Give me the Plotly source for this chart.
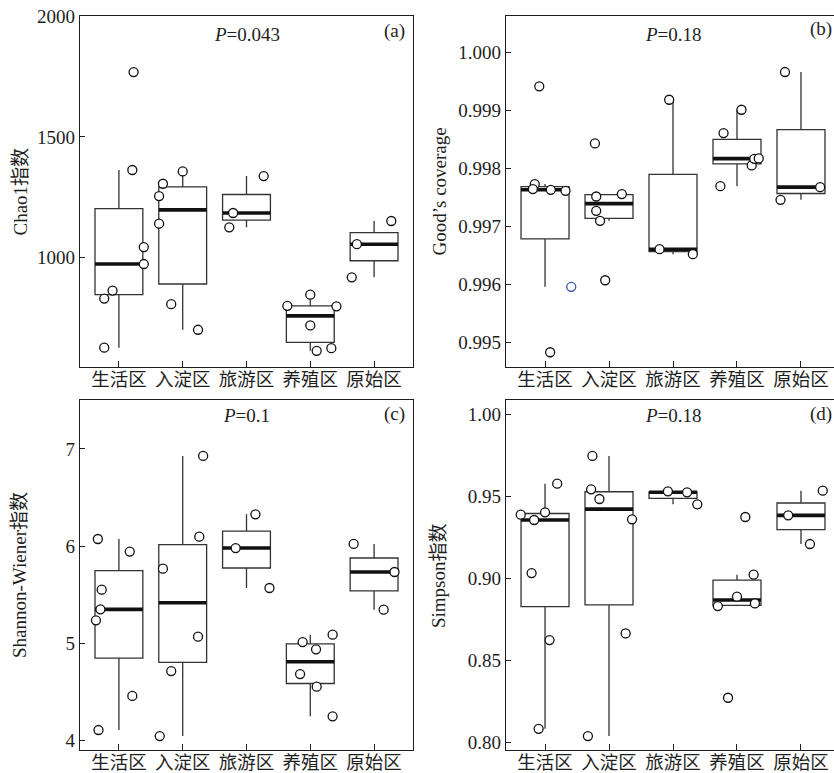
import numpy as np
import plotly.graph_objects as go

categories = ["生活区", "入淀区", "旅游区", "养殖区", "原始区"]

# Panel (a) Chao1
chao1 = [
    [831, 864, 628, 1768, 1363, 1044, 974],
    [1306, 1255, 1141, 1357, 808, 702],
    [1126, 1185, 1338],
    [801, 847, 799, 720, 615, 626],
    [1152, 1056, 919],
]
chao1_jitter = [
    [-0.23, -0.10, -0.23, 0.23, 0.21, 0.39, 0.39],
    [-0.31, -0.37, -0.37, 0.0, -0.18, 0.24],
    [-0.27, -0.21, 0.27],
    [-0.36, 0.0, 0.41, 0.0, 0.10, 0.33],
    [0.27, -0.27, -0.35],
]

# Panel (b) Good's coverage
goods = [
    [0.997727, 0.997641, 0.997629, 0.997612, 0.999409, 0.995959, 0.994834],
    [0.998427, 0.997514, 0.997555, 0.997268, 0.997095, 0.996073],
    [0.996607, 0.996521, 0.999179],
    [0.998605, 0.999007, 0.997692, 0.998048, 0.998163, 0.998169],
    [0.999656, 0.997675, 0.997457],
]
goods_jitter = [
    [-0.16, -0.19, 0.09, 0.32, -0.09, 0.41, 0.08],
    [-0.22, -0.20, 0.20, -0.20, -0.14, -0.06],
    [-0.21, 0.31, -0.06],
    [-0.21, 0.07, -0.26, 0.23, 0.27, 0.34],
    [-0.25, 0.30, -0.32],
]
goods_blue = (0, 5)  # group index, point index drawn in blue

# Panel (c) Shannon-Wiener
shannon = [
    [6.072, 5.942, 5.550, 5.347, 5.234, 4.454, 4.103],
    [6.928, 6.096, 5.766, 5.065, 4.711, 4.041],
    [5.979, 6.326, 5.567],
    [5.086, 5.010, 4.935, 4.680, 4.550, 4.244],
    [6.021, 5.732, 5.344],
]
shannon_jitter = [
    [-0.33, 0.17, -0.27, -0.29, -0.36, 0.21, -0.32],
    [0.32, 0.26, -0.31, 0.24, -0.18, -0.36],
    [-0.17, 0.14, 0.36],
    [0.35, -0.12, 0.09, -0.16, 0.10, 0.35],
    [-0.32, 0.32, 0.15],
]

# Panel (d) Simpson
simpson = [
    [0.95777, 0.93888, 0.94030, 0.93563, 0.90335, 0.86253, 0.80852],
    [0.97462, 0.95431, 0.94843, 0.93604, 0.86660, 0.80406],
    [0.9531, 0.95249, 0.94518],
    [0.93746, 0.90233, 0.88893, 0.88325, 0.88487, 0.82741],
    [0.9535, 0.93848, 0.92101],
]
simpson_jitter = [
    [0.19, -0.38, 0.0, -0.17, -0.21, 0.07, -0.10],
    [-0.26, -0.28, -0.15, 0.36, 0.26, -0.33],
    [-0.08, 0.22, 0.38],
    [0.13, 0.26, 0.0, -0.30, 0.28, -0.14],
    [0.34, -0.20, 0.14],
]

p_labels = ["0.043", "0.18", "0.1", "0.18"]
panel_tags = ["(a)", "(b)", "(c)", "(d)"]
y_titles = ["Chao1指数", "Good’s coverage", "Shannon-Wiener指数", "Simpson指数"]
y_ticks = [
    [1000, 1500, 2000],
    [0.995, 0.996, 0.997, 0.998, 0.999, 1.000],
    [4, 5, 6, 7],
    [0.80, 0.85, 0.90, 0.95, 1.00],
]
y_ticktext = [
    ["1000", "1500", "2000"],
    ["0.995", "0.996", "0.997", "0.998", "0.999", "1.000"],
    ["4", "5", "6", "7"],
    ["0.80", "0.85", "0.90", "0.95", "1.00"],
]
y_ranges = [[548, 2000], [0.99458, 1.00062], [3.897, 7.505], [0.7956, 1.0087]]

FONT = "Liberation Serif, Noto Sans CJK SC, serif"
W, H = 834, 773
BOXW = 0.75
INK = "#1e1e1e"

panels = [
    (chao1, chao1_jitter),
    (goods, goods_jitter),
    (shannon, shannon_jitter),
    (simpson, simpson_jitter),
]

# pixel layout of the plotting frames
frames = [
    (80, 413, 16, 367),
    (506, 834, 16, 367),
    (80, 413, 400, 750),
    (506, 834, 400, 750),
]
x_ranges = [[0.39, 5.61], [0.39, 5.516], [0.39, 5.61], [0.39, 5.516]]
p_y = [0.948, 0.948, 0.957, 0.957]
tag_x = [0.982, 1.0, 0.982, 1.0]
tag_y = [0.957, 0.963, 0.96, 0.96]
title_x = [20, 439, 19, 438]

fig = go.Figure()
layout = {}
annotations = []

for k, (vals, jits) in enumerate(panels):
    xa = "x" if k == 0 else f"x{k+1}"
    ya = "y" if k == 0 else f"y{k+1}"
    for g, (v, j) in enumerate(zip(vals, jits)):
        pos = g + 1
        arr = np.array(v, dtype=float)
        q1, med, q3 = np.percentile(arr, [25, 50, 75])
        iqr = q3 - q1
        lo = arr[arr >= q1 - 1.5 * iqr].min()
        hi = arr[arr <= q3 + 1.5 * iqr].max()
        fig.add_trace(go.Box(
            x=[pos], q1=[q1], median=[med], q3=[q3],
            lowerfence=[lo], upperfence=[hi],
            width=BOXW, boxpoints=False, whiskerwidth=0,
            line=dict(color="#333333", width=1.3),
            fillcolor="rgba(0,0,0,0)",
            xaxis=xa, yaxis=ya, showlegend=False, hoverinfo="skip",
        ))
        fig.add_trace(go.Scatter(
            x=[pos - BOXW / 2, pos + BOXW / 2], y=[med, med],
            mode="lines", line=dict(color="#111111", width=3.6),
            xaxis=xa, yaxis=ya, showlegend=False, hoverinfo="skip",
        ))
        colors = ["#111111"] * len(v)
        if k == 1 and g == goods_blue[0]:
            colors[goods_blue[1]] = "#3a55a8"
        fig.add_trace(go.Scatter(
            x=[pos + d for d in j], y=v, mode="markers",
            marker=dict(size=9, color="white",
                        line=dict(color=colors, width=1.3)),
            xaxis=xa, yaxis=ya, showlegend=False, hoverinfo="skip",
            cliponaxis=False,
        ))

    x0, x1, y0, y1 = frames[k]
    right_panel = k in (1, 3)
    layout["xaxis" if k == 0 else f"xaxis{k+1}"] = dict(
        domain=[x0 / W, x1 / W], anchor=ya, range=x_ranges[k],
        tickvals=[1, 2, 3, 4, 5], ticktext=categories,
        ticks="inside", ticklen=6, tickcolor=INK, tickwidth=1.2,
        showline=True, mirror=True, linecolor=INK, linewidth=1.2,
        showgrid=False, zeroline=False, automargin=False,
        ticklabelstandoff=-4,
        tickfont=dict(family=FONT, size=18.5, color=INK),
    )
    layout["yaxis" if k == 0 else f"yaxis{k+1}"] = dict(
        domain=[1 - y1 / H, 1 - y0 / H], anchor=xa, range=y_ranges[k],
        tickvals=y_ticks[k], ticktext=y_ticktext[k],
        ticks="inside", ticklen=5, tickcolor=INK, tickwidth=1.2,
        showline=True, mirror=not right_panel, linecolor=INK, linewidth=1.2,
        showgrid=False, zeroline=False, automargin=False,
        tickfont=dict(family=FONT, size=19, color=INK),
    )
    annotations.append(dict(
        text=f"<i>P</i>=" + p_labels[k], xref=xa, x=3,
        yref=f"{ya} domain", y=p_y[k], xanchor="center", yanchor="middle",
        showarrow=False, font=dict(family=FONT, size=19, color=INK),
    ))
    annotations.append(dict(
        text=panel_tags[k], xref=f"{xa} domain", x=tag_x[k],
        yref=f"{ya} domain", y=tag_y[k], xanchor="right", yanchor="middle",
        showarrow=False, font=dict(family=FONT, size=19, color=INK),
    ))
    annotations.append(dict(
        text=y_titles[k], xref="paper", x=title_x[k] / W,
        yref="paper", y=1 - (y0 + y1) / 2 / H, xanchor="center", yanchor="middle",
        textangle=-90, showarrow=False,
        font=dict(family=FONT, size=19, color=INK),
    ))

fig.update_layout(
    width=W, height=H, margin=dict(l=0, r=0, t=0, b=0, pad=0, autoexpand=False),
    paper_bgcolor="white", plot_bgcolor="white",
    boxmode="overlay", annotations=annotations, **layout,
)

fig.write_html(
    "out.html",
    config={"displayModeBar": False},
    post_script="document.body.style.margin='0';document.body.style.overflow='hidden';",
)
